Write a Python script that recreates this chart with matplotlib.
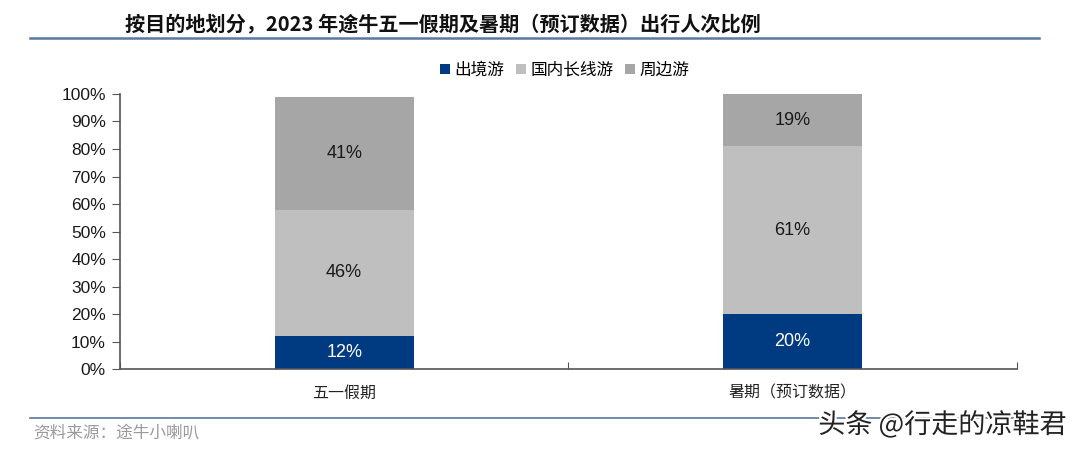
import matplotlib
matplotlib.use("Agg")
import matplotlib.pyplot as plt
import matplotlib.patheffects as pe
import numpy as np

plt.rcParams['font.family'] = ['Liberation Sans', 'Noto Sans CJK SC', 'DejaVu Sans']

categories = ["五一假期", "暑期（预订数据）"]
series_names = ["出境游", "国内长线游", "周边游"]
outbound = [12, 20]
domestic_long = [46, 61]
nearby = [41, 19]
colors = ["#003A80", "#BFBFBF", "#A6A6A6"]
label_colors = ["white", "#1a1a1a", "#1a1a1a"]
yticks = [0, 10, 20, 30, 40, 50, 60, 70, 80, 90, 100]

fig = plt.figure(figsize=(10.8, 4.53), dpi=100)
ax = fig.add_axes([0.111, 0.1854, 0.8306, 0.6071])

x = np.arange(len(categories))
bottom = np.zeros(len(categories))
handles = []
for vals, name, c, lc in zip([outbound, domestic_long, nearby], series_names, colors, label_colors):
    b = ax.bar(x, vals, width=0.31, bottom=bottom, color=c, label=name)
    handles.append(b)
    for xi, v, bt in zip(x, vals, bottom):
        ax.text(xi, bt + v / 2, f"{v}%", ha="center", va="center", fontsize=13,
                color=lc, family=['Liberation Sans'])
    bottom += np.array(vals)

ax.set_xlim(-0.5, 1.5)
ax.set_ylim(0, 100)
ax.set_yticks(yticks)
ax.set_yticklabels([f"{t}%" for t in yticks], fontsize=12.5, color="#1a1a1a")
ax.set_xticks([-0.5, 0.5, 1.5])
ax.set_xticklabels([])
ax.tick_params(axis="x", direction="in", length=5, color="#555555")
ax.tick_params(axis="y", direction="out", length=6, color="#555555", pad=4)
for xi, cat in zip(x, categories):
    ax.text(xi, -8.8, cat, ha="center", va="center", fontsize=11.5, color="#222222",
            family=['Noto Sans CJK SC'], transform=ax.transData, clip_on=False)
for s in ["top", "right"]:
    ax.spines[s].set_visible(False)
ax.spines["left"].set_color("#555555")
ax.spines["bottom"].set_color("#555555")
ax.spines["left"].set_linewidth(1.2)
ax.spines["bottom"].set_linewidth(1.2)

leg = fig.legend(handles, series_names, loc="center", bbox_to_anchor=(0.523, 0.845), ncol=3,
                 frameon=False, handlelength=0.6, handleheight=0.6,
                 handletextpad=0.25, columnspacing=0.7,
                 prop={'family': ['Noto Sans CJK SC'], 'size': 12})

# title
fig.text(0.116, 0.947, "按目的地划分，2023 年途牛五一假期及暑期（预订数据）出行人次比例",
         fontsize=14.5, fontweight="bold", ha="left", va="center", color="#111111",
         family=['Noto Sans CJK SC'])
fig.add_artist(plt.Line2D([0.028, 0.962], [0.916, 0.916], color="#5A78A0", linewidth=1.8,
                          transform=fig.transFigure))
# bottom line
fig.add_artist(plt.Line2D([0.028, 0.962], [0.077, 0.077], color="#5A78A0", linewidth=1.2,
                          transform=fig.transFigure))
fig.text(0.031, 0.042, "资料来源：途牛小喇叭", fontsize=12, color="#9a9a9a", ha="left",
         va="center", family=['Noto Sans CJK SC'])
fig.text(0.988, 0.062, "头条 @行走的凉鞋君", fontsize=19.5, color="#222222", ha="right",
         va="center", family=['Noto Sans CJK SC'],
         path_effects=[pe.withStroke(linewidth=3, foreground="white")])

fig.savefig("out.png", dpi=100)
